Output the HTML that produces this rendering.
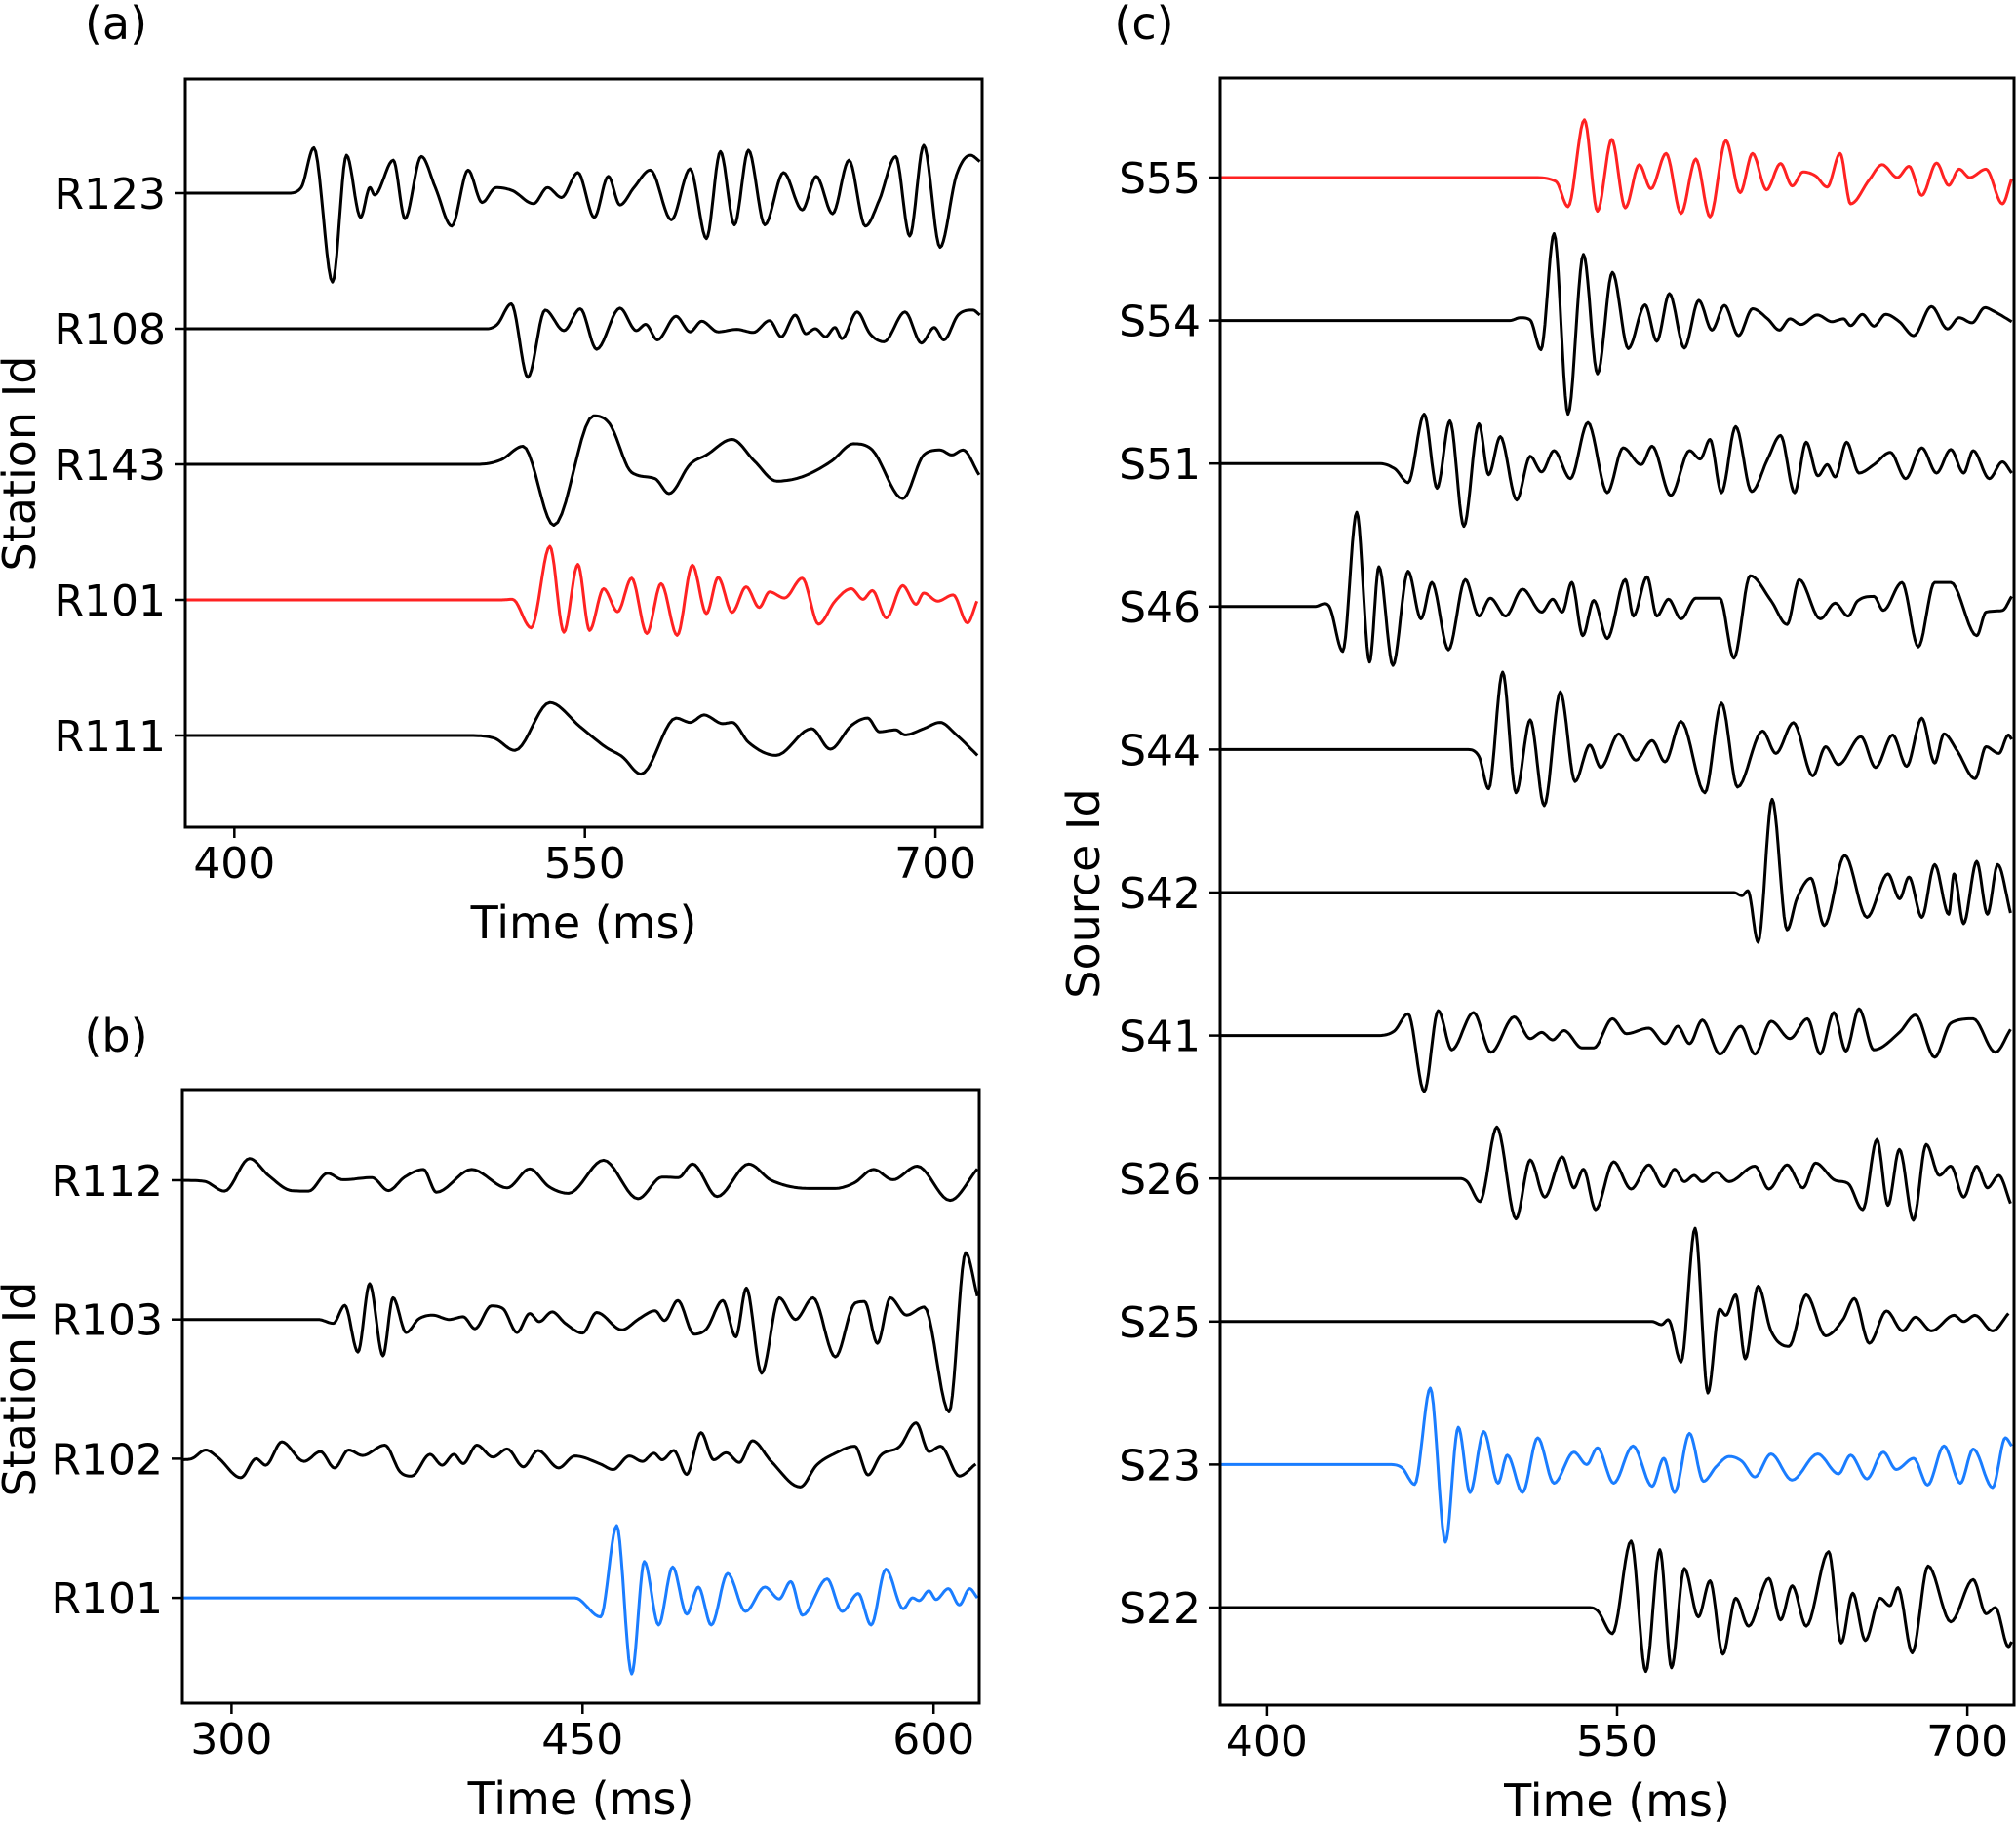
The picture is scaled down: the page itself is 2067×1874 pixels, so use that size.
<!DOCTYPE html>
<html><head><meta charset="utf-8"><style>
html,body{margin:0;padding:0;background:#fff}
svg{display:block}
text{font-family:"DejaVu Sans","Liberation Sans",sans-serif;fill:#000}
</style></head><body>
<svg id="fig" width="2067" height="1874" viewBox="0 0 2067 1874" xmlns="http://www.w3.org/2000/svg"></svg>
<script>
// ---------- Panel (a) data ----------
const aLabels = ["R123","R108","R143","R101","R111"];
const aTicks = [400,550,700];
const R123_t = [423,428.6,434,442,448,454,458,460,468,473,480,486,493,500,506,512,519,528,534,540,547,554,560,565,571,578,587,595,602,608,614,620,627,635,643,649,656,663,670,676,683,689,695,702,709,715,719];
const R123_a = [0,9,73,-143,61,-39,9,-3,53,-41,59,9,-53,37,-15,9,4,-17,9,-7,33,-39,27,-19,9,37,-43,39,-73,67,-51,69,-51,33,-27,27,-33,53,-53,-11,59,-69,77,-87,29,61,51];
const R108_t = [508,512.5,518.5,525.6,533,541,548,555,565,572,576,581,589,595,600,607,615,622,629,634,640,644.5,648.6,653,657,660,666.5,672,678,687,694,699.5,703.6,709.7,716,719];
const R108_a = [0,7,40,-78,30,-3,32,-33,33,-3,7,-18,20,-5,12,-5,-1,-6,13,-13,22,-8,0,-13,2,-16,27,-8,-21,27,-23,2,-18,22,30,22];
const R143_t = [504,514,523.5,536.7,553.7,560.6,570,580,586,595,602,613,622.6,632,643,655.5,665,673,686,695,702,707,711.8,718.7];
const R143_a = [0,7,29,-98,78,65,-13,-23,-47,0,15,40,5,-27,-20,5,33,23,-55,15,23,15,23,-17];
const R101a_t = [514,519,527,535,541,547,552,558,564,570,576.5,582.6,589.5,596,602,607,613,619,624.6,629,635.4,643,650,657,664,669,673,679,686,691.7,695,701,707.6,713.7,717.8];
const R101a_a = [0,1,-45,86,-52,57,-49,18,-19,35,-54,26,-57,56,-22,36,-20,21,-12,13,3,35,-39,-2,18,1,15,-29,23,-7,11,-2,8,-37,-2];
const R111_t = [500,511,520,535,548,559,566,574,589,595,601,609,613,620,631.8,647,655,664,671,676,683,687,695,702,709,718];
const R111_a = [0,-4,-24,53,14,-19,-34,-62,28,21,33,19,21,-11,-32,11,-22,16,28,6,9,1,11,21,1,-32];

// ---------- Panel (b) data ----------
const bLabels = ["R112","R103","R102","R101"];
const bTicks = [300,450,600];
const R112_t = [279,288.4,297,307.7,316,325.6,333,341,347.6,360,367,374,382,387.5,402.6,417.8,427.4,435.7,444,459,473.7,484,491,497,507.5,521,530.6,547,558,566,574.4,582.6,593,607,618.7];
const R112_a = [0,-2,-20,40,8,-19,-20,13,1,5,-19,6,20,-22,20,-14,21,-12,-24,37,-34,6,5,30,-30,30,0,-15,-15,-5,20,1,26,-37,21];
const R103_t = [337,343.5,348.4,354,359,364.7,369,374.6,380,386,393,399,404,411,416,422,427.4,431.5,437,442.6,450,456,466.8,474,481,485,490.7,497.6,503,509.9,515.5,520,526.5,534,541,548.5,558,566.4,570.5,576,581.5,588.4,596,606.6,613.7,618.7];
const R103_a = [0,-7,26,-60,66,-67,40,-24,1,8,0,5,-17,25,20,-24,11,-4,14,-7,-25,13,-19,1,16,-2,35,-27,-17,35,-32,58,-99,40,0,40,-69,30,33,-44,40,8,23,-170,123,43];
const R102_t = [279,283,289,294,304,310.5,314.6,321.5,331,338,344,350,356,365.5,372,377,384.8,390,395,399,404.8,411.7,417.8,424.7,431,439.8,446.7,457.7,463,470,475.6,480.5,484,489,494.5,500.6,506,511.4,517,522.6,530.6,543,550,558,566.4,572,577.4,585.6,592.5,598,603,611,618];
const R102_a = [-2,0,16,3,-35,0,-12,31,-5,13,-17,16,6,25,-24,-32,8,-12,8,-9,25,3,18,-15,15,-17,5,-10,-20,5,-5,10,-2,15,-29,48,-2,11,-7,33,-5,-52,-12,10,23,-30,6,23,66,13,23,-32,-10];
const R101b_t = [446.7,457.7,464.6,471,476.4,482.5,488.5,494.5,499.5,505,512,519.6,527.9,534,539,544,554.5,560.9,567.8,573.3,579.6,587,591,593.8,598,601,606.3,611,615.4,618.7];
const R101b_a = [0,-35,133,-140,67,-50,57,-30,20,-50,45,-25,20,-2,30,-32,35,-25,8,-50,53,-20,0,-5,13,-3,17,-13,17,0];

// ---------- Panel (c) data ----------
const cLabels = ["S55","S54","S51","S46","S44","S42","S41","S26","S25","S23","S22"];
const cTicks = [400,550,700];
const cGain = [1,1,1,1,1,1.108,1.108,1.108,1.108,1.108,1.108];
const S55 = [[514,0],[523.8,-7],[529,-52],[536,103],[541.6,-60],[547.7,68],[553.5,-54],[559.5,23],[564.5,-20],[571,43],[577.4,-64],[583.7,33],[589.8,-70],[596.6,66],[602.7,-27],[608,43],[614,-22],[620,25],[625,-15],[629.6,10],[635,3],[640,-17],[645.5,43],[650,-47],[658,-4],[663.5,23],[670,0],[675,20],[680.5,-32],[686.8,26],[692,-14],[696.5,15],[701,0],[708,15],[715,-47],[719,-2]];
const S54 = [[504,0],[508.6,5],[512.8,1],[517.4,-52],[523,155],[529,-167],[535.6,118],[541.6,-95],[548,86],[554.8,-50],[562,28],[567,-37],[572.4,48],[578.8,-49],[585,36],[590.6,-17],[596,27],[602,-27],[608,21],[614.5,3],[619.5,-17],[624,3],[628.8,-7],[635.7,10],[642,-2],[647,3],[650,-9],[655,11],[660,-10],[665,11],[670.9,-2],[677,-27],[684.6,25],[691.5,-15],[696.5,5],[702,-4],[707.5,23],[711.6,16],[719,-2]];
const S51 = [[448,0],[455,-10],[460.5,-34],[467.4,88],[472.9,-44],[478.4,76],[484.4,-112],[490.8,71],[495,-20],[500,48],[507,-65],[512.8,13],[517.7,-15],[523,23],[530,-27],[537.5,73],[545.8,-52],[552.6,28],[560.3,-2],[565,31],[573,-57],[581,23],[585.6,8],[589.8,43],[594.7,-52],[600.8,66],[607.6,-50],[614.5,8],[620,50],[626,-52],[631,38],[636,-22],[640,-2],[643.4,-24],[648.3,38],[653.6,-17],[660,-2],[667,20],[673.6,-27],[680.5,28],[686.8,-17],[692.9,25],[698.4,-17],[702.5,23],[709.4,-27],[715,3],[719,-17]];
const S46 = [[420.6,0],[424.8,5],[427,-2],[432.5,-80],[438.5,168],[444,-99],[448,71],[454,-105],[460.5,63],[466,-22],[470.7,43],[477.8,-77],[485,48],[490.8,-17],[495.7,15],[502.3,-17],[509.5,31],[517.7,-10],[522.4,13],[526.5,-10],[530.6,43],[535.3,-52],[540,11],[545.8,-57],[553.5,48],[557,-17],[562.8,53],[567,-17],[572,13],[577.4,-22],[583.7,15],[594,15],[600,-92],[607,55],[616,10],[622.8,-32],[628,48],[637,-22],[643.4,6],[648.9,-17],[653,10],[660,18],[664,-7],[672,43],[679,-72],[686,43],[692.9,43],[704,-52],[708,-10],[715,-7],[719,18]];
const S44 = [[485.8,0],[490.8,-12],[495,-70],[501,138],[506.7,-77],[512.8,53],[518.8,-100],[525.7,103],[532,-57],[538.3,8],[543,-32],[550.7,28],[558,-19],[565,16],[570.5,-22],[577.4,50],[587.6,-77],[594.7,83],[601.6,-67],[612.3,33],[618,-7],[625.5,48],[633.8,-47],[639.3,5],[644.8,-27],[654.4,23],[660.7,-32],[668,26],[674,-30],[680.5,56],[686,-24],[690,28],[695.6,-2],[703.3,-52],[708,5],[713.5,-7],[717.6,26],[719,18]];
const S42 = [[600,0],[603.5,-5],[606,3],[610.4,-80],[616.4,150],[622.8,-60],[627,-10],[633,23],[638.7,-53],[647.5,60],[657,-40],[666,30],[671,-10],[675,25],[680.5,-40],[686,45],[692,-35],[694.3,30],[698.4,-50],[704,50],[708.6,-35],[713,45],[718.5,-33]];
const S41 = [[446.8,0],[454.5,7],[460.5,35],[467.4,-90],[473.4,40],[479.2,-23],[488.5,37],[496,-27],[505.9,30],[512.8,-5],[517.7,5],[522.4,-7],[527.3,8],[535,-20],[540,-20],[548,27],[554,3],[563.6,12],[570.5,-13],[576,15],[581,-13],[586.5,25],[594,-30],[603,15],[609,-30],[616,23],[624,-5],[631.5,27],[637,-30],[642.8,37],[648,-25],[653.6,43],[659.9,-23],[670.9,5],[677.8,33],[686,-35],[692.9,20],[702.5,27],[712,-27],[718.5,10]];
const S26 = [[482.5,0],[485.8,-5],[491.3,-37],[498.5,83],[506.7,-65],[512.8,30],[519,-30],[526.5,35],[531.5,-15],[535.6,15],[540.8,-50],[548.5,27],[556,-17],[563.6,22],[570,-13],[574.6,15],[578.8,-5],[583,5],[586.5,-5],[592.5,10],[598,-5],[609,20],[615,-17],[622.8,22],[629.6,-15],[635,25],[643.4,-3],[648.9,-8],[655.2,-50],[661.3,63],[666,-43],[670.9,47],[676.9,-67],[682.4,55],[688,5],[692.9,20],[698.4,-30],[704,20],[708.6,-15],[713.5,5],[718.5,-40]];
const S25 = [[565,0],[569,-5],[571.9,3],[577.4,-65],[583.4,150],[588.9,-115],[593.9,20],[596.6,10],[600.8,43],[604.9,-60],[610.4,57],[615.9,-15],[623.6,-40],[631,43],[639.3,-23],[646.7,3],[651.6,37],[658,-35],[665.4,17],[672.3,-15],[677.8,7],[684.6,-15],[694.3,10],[698.4,0],[703.3,10],[710.8,-15],[717.6,13]];
const S23 = [[452.3,0],[457.8,-5],[463.3,-32],[470,123],[476.5,-125],[482,60],[487,-45],[492.9,53],[499,-30],[503,15],[509.5,-45],[516,43],[523,-30],[531.5,20],[537,0],[541.6,27],[548.5,-30],[556.8,30],[565,-35],[570,10],[574.6,-45],[581,50],[587,-27],[592.5,-3],[598,13],[603.5,5],[609,-20],[615.9,17],[624.9,-25],[635.9,17],[644.8,-15],[650,15],[657,-23],[664,20],[669.5,-8],[677,10],[683,-33],[690,30],[697,-30],[702.5,25],[710.8,-37],[716.3,43],[719,30]];
const S22 = [[537.5,0],[541.6,-5],[548,-42],[556,107],[562.3,-103],[568.3,93],[573.3,-97],[578.8,63],[584.8,-15],[589.8,43],[595.3,-75],[600.8,15],[606.3,-30],[615,47],[620,-20],[625,35],[631,-30],[640.6,90],[646,-57],[650.9,23],[656.3,-53],[662.6,15],[666.8,3],[670.3,32],[676.4,-73],[683.2,67],[692.9,-23],[702.5,45],[708,-10],[712,0],[717.6,-63],[719,-55]];

const RED = "#ff2222", BLUE = "#1a7dff", BLK = "#000";
const svg = document.getElementById('fig');
const NS = "http://www.w3.org/2000/svg";
function mk(tag, attrs, parent){ const e=document.createElementNS(NS,tag); for(const k in attrs) e.setAttribute(k,attrs[k]); (parent||svg).appendChild(e); return e; }
function zip(t,a){ return t.map((v,i)=>[v,a[i]]); }

function monoPath(pts, X, Y){
  const n=pts.length, xs=pts.map(p=>p[0]), ys=pts.map(p=>p[1]);
  const d=[], m=new Array(n).fill(0);
  for(let i=0;i<n-1;i++) d.push((ys[i+1]-ys[i])/(xs[i+1]-xs[i]));
  m[0]=d[0]; m[n-1]=d[n-2];
  for(let i=1;i<n-1;i++){ m[i]=(d[i-1]*d[i]<=0)?0:(d[i-1]+d[i])/2; }
  for(let i=0;i<n-1;i++){
    if(d[i]===0){m[i]=0;m[i+1]=0;continue;}
    const a=m[i]/d[i], b=m[i+1]/d[i], s=a*a+b*b;
    if(s>9){const t=3/Math.sqrt(s); m[i]=t*a*d[i]; m[i+1]=t*b*d[i];}
  }
  let p="M"+X(xs[0]).toFixed(1)+","+Y(ys[0]).toFixed(1);
  for(let i=0;i<n-1;i++){
    const h=xs[i+1]-xs[i], N=10;
    for(let k=1;k<=N;k++){
      const t=k/N, t2=t*t, t3=t2*t;
      const v=(2*t3-3*t2+1)*ys[i]+(t3-2*t2+t)*h*m[i]+(-2*t3+3*t2)*ys[i+1]+(t3-t2)*h*m[i+1];
      p+="L"+X(xs[i]+t*h).toFixed(1)+","+Y(v).toFixed(1);
    }
  }
  return p;
}

function panel(cfg){
  const g=mk('g',{});
  
  
  const X=t=>cfg.x0+(t-cfg.tmin)*(cfg.x1-cfg.x0)/(cfg.tmax-cfg.tmin);
  const base=i=>cfg.b0+i*cfg.step;
  cfg.traces.forEach((tr,i)=>{
    let pts=tr.pts.slice();
    if(pts[0][0]>cfg.tmin) pts.unshift([cfg.tmin,0]);
    const gain=tr.gain||1;
    const Y=a=>base(i)-a*cfg.k*gain;
    const p=mk('path',{d:monoPath(pts,X,Y),fill:'none',stroke:tr.color,'stroke-width':3,'stroke-linejoin':'round'},g);
    
    
    const tk=mk('line',{x1:cfg.x0-11,x2:cfg.x0,y1:base(i),y2:base(i),stroke:'#000','stroke-width':2.5},g);
    
    
    const lb=mk('text',{x:cfg.x0-20,y:base(i)+16,'text-anchor':'end','font-size':44},g);
    
    
    lb.textContent=cfg.labels[i];
  });
  const fr=mk('rect',{x:cfg.x0,y:cfg.top,width:cfg.x1-cfg.x0,height:cfg.bot-cfg.top,fill:'none',stroke:'#000','stroke-width':3},g);
  
  
  cfg.ticks.forEach(t=>{
    const l=mk('line',{x1:X(t),x2:X(t),y1:cfg.bot,y2:cfg.bot+11,stroke:'#000','stroke-width':2.5},g);
    
    
    const tx=mk('text',{x:X(t),y:cfg.bot+52,'text-anchor':'middle','font-size':44},g);
    
    
    tx.textContent=t;
  });
  const xl=mk('text',{x:(cfg.x0+cfg.x1)/2,y:cfg.bot+114,'text-anchor':'middle','font-size':46},g);
  
  
  xl.textContent='Time (ms)';
  const yl=mk('text',{x:0,y:0,'text-anchor':'middle','font-size':46,transform:`translate(${cfg.ylx},${cfg.yly}) rotate(-90)`},g);
  
  
  yl.textContent=cfg.ytitle;
  const pl=mk('text',{x:cfg.plx,y:cfg.ply,'text-anchor':'middle','font-size':46},g);
  
  
  pl.textContent=cfg.plabel;
}

panel({name:'panel-a',x0:190,x1:1007,tmin:379,tmax:720,top:81,bot:848,b0:198,step:139,k:0.638,
  labels:aLabels,ticks:aTicks,ytitle:'Station Id',ylx:36,yly:475,plabel:'(a)',plx:119,ply:40,
  traces:[{pts:zip(R123_t,R123_a),color:BLK},{pts:zip(R108_t,R108_a),color:BLK},{pts:zip(R143_t,R143_a),color:BLK},{pts:zip(R101a_t,R101a_a),color:RED},{pts:zip(R111_t,R111_a),color:BLK}]});
panel({name:'panel-b',x0:187,x1:1004,tmin:279,tmax:619.5,top:1117,bot:1746,b0:1210,step:142.7,k:0.557,
  labels:bLabels,ticks:bTicks,ytitle:'Station Id',ylx:36,yly:1424,plabel:'(b)',plx:119,ply:1078,
  traces:[{pts:zip(R112_t,R112_a),color:BLK},{pts:zip(R103_t,R103_a),color:BLK},{pts:zip(R102_t,R102_a),color:BLK},{pts:zip(R101b_t,R101b_a),color:BLUE}]});
const cSeries=[S55,S54,S51,S46,S44,S42,S41,S26,S25,S23,S22];
panel({name:'panel-c',x0:1251,x1:2065,tmin:380,tmax:720,top:80,bot:1748,b0:182,step:146.6,k:0.575,
  labels:cLabels,ticks:cTicks,ytitle:'Source Id',ylx:1127,yly:916,plabel:'(c)',plx:1173,ply:40,
  traces:cSeries.map((s,i)=>({pts:s,gain:cGain[i],color:i===0?RED:(i===9?BLUE:BLK)}))});
</script>
</body></html>
